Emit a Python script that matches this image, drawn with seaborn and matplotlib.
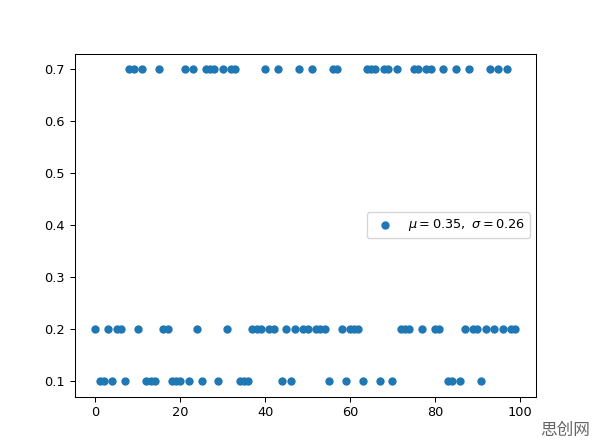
import numpy as np
import pandas as pd
import seaborn as sns
import matplotlib.pyplot as plt

# x positions of the points on each level
x_low = [1, 2, 4, 7, 12, 13, 14, 18, 19, 20, 22, 25, 29, 34, 35, 36, 44, 46,
         55, 59, 63, 67, 70, 83, 84, 86, 91]
x_mid = [0, 3, 5, 6, 10, 16, 17, 24, 31, 37, 38, 39, 41, 42, 45, 47, 49, 50,
         52, 53, 54, 58, 60, 61, 62, 72, 73, 74, 77, 80, 81, 87, 89, 90, 92,
         94, 96, 98, 99]
x_high = [8, 9, 11, 15, 21, 23, 26, 27, 28, 30, 32, 33, 40, 43, 48, 51,
          56, 57, 64, 65, 66, 68, 69, 71, 75, 76, 78, 79, 82, 85, 88, 93, 95, 97]
levels = [0.1, 0.2, 0.7]
legend_label = r'$\mu=0.35,\ \sigma=0.26$'

df = pd.concat([
    pd.DataFrame({'x': x_low, 'y': levels[0]}),
    pd.DataFrame({'x': x_mid, 'y': levels[1]}),
    pd.DataFrame({'x': x_high, 'y': levels[2]}),
]).sort_values('x')

# original was a default 640x480 matplotlib figure, shrunk to 596 wide
scale = 596 / 640
plt.rcParams['font.size'] = 10 * scale
plt.rcParams['axes.linewidth'] = 0.8 * scale
plt.rcParams['xtick.major.width'] = 0.8 * scale
plt.rcParams['ytick.major.width'] = 0.8 * scale
plt.rcParams['xtick.major.size'] = 3.5 * scale
plt.rcParams['ytick.major.size'] = 3.5 * scale

fig, ax = plt.subplots(figsize=(5.96, 4.46), dpi=100)
sns.scatterplot(data=df, x='x', y='y', ax=ax, color='#1f77b4', s=36,
                linewidth=0, label=legend_label)
ax.set_xlabel('')
ax.set_ylabel('')
ax.legend(loc='center right')

fig.text(0.99, 0.015, '思创网', ha='right', va='bottom', color='#666666',
         fontsize=12, family=['Noto Sans CJK SC', 'DejaVu Sans'])

fig.savefig('out.png', dpi=100)
